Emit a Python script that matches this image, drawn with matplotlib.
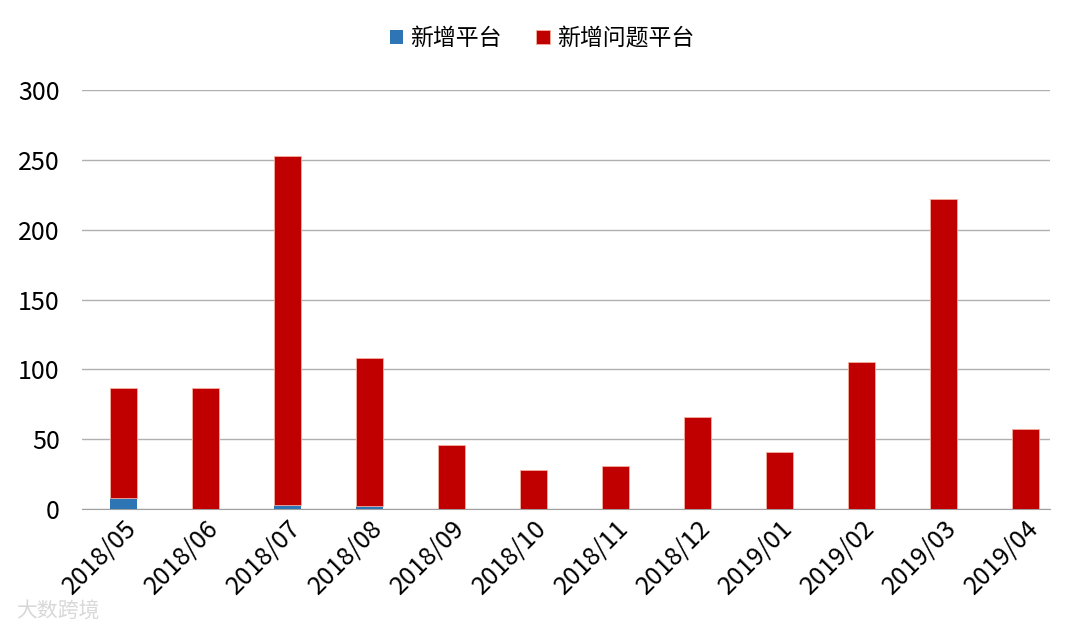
import matplotlib.pyplot as plt
import numpy as np

plt.rcParams['font.family'] = ['Noto Sans CJK SC', 'DejaVu Sans']

months = ['2018/05', '2018/06', '2018/07', '2018/08', '2018/09', '2018/10',
          '2018/11', '2018/12', '2019/01', '2019/02', '2019/03', '2019/04']
new_platforms = [8, 0, 3, 2, 0, 0, 0, 0, 0, 0, 0, 0]
new_problem = [79, 87, 250, 106, 46, 28, 31, 66, 41, 105, 222, 57]

fig = plt.figure(figsize=(10.8, 6.3), dpi=100)
ax = fig.add_axes([0.076, 0.192, 0.896, 0.665])

x = np.arange(len(months))
w = 0.33
ax.bar(x, new_platforms, w, color='#2e75b6', label='新增平台', zorder=3)
ax.bar(x, new_problem, w, bottom=new_platforms, color='#c00000',
       edgecolor='#f4b0a0', linewidth=0.6, label='新增问题平台', zorder=3)

ax.set_ylim(0, 300)
ax.set_xlim(-0.5, 11.3)
ax.set_yticks(range(0, 301, 50))
ax.yaxis.grid(True, color='#b0b0b0', linewidth=1)
ax.set_axisbelow(True)
for s in ['top', 'right', 'left']:
    ax.spines[s].set_visible(False)
ax.spines['bottom'].set_color('#a0a0a0')
ax.tick_params(axis='y', length=0, labelsize=18, pad=16)
ax.tick_params(axis='x', length=0, labelsize=18, pad=4)
ax.set_xticks(x)
ax.set_xticklabels(months, rotation=45, ha='right', rotation_mode='anchor')

ax.legend(loc='upper center', bbox_to_anchor=(0.475, 1.2), ncol=2, frameon=False,
          fontsize=16.5, handlelength=0.6, handleheight=0.6, columnspacing=1.5,
          handletextpad=0.3)

fig.text(0.015, 0.02, '大数跨境', fontsize=15, color='#d8d8d8')

fig.savefig('out.png', dpi=100)
